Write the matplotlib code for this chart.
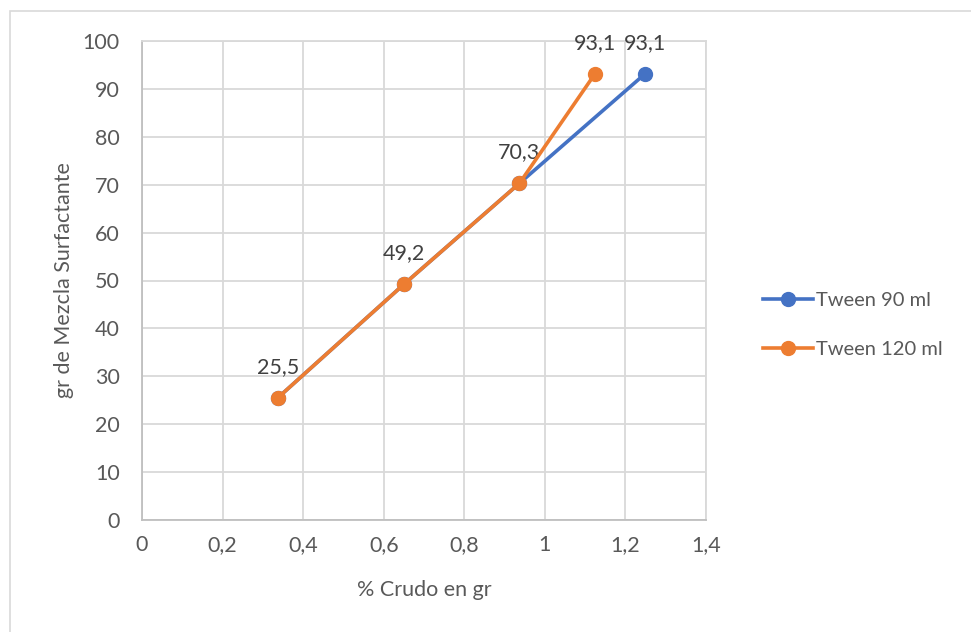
import matplotlib.pyplot as plt
from matplotlib.patches import Rectangle

plt.rcParams['font.family'] = ['Lato', 'DejaVu Sans']

# data
crudo_90 = [0.337, 0.650, 0.937, 1.248]
mezcla_90 = [25.5, 49.2, 70.3, 93.1]
crudo_120 = [0.337, 0.650, 0.937, 1.124]
mezcla_120 = [25.5, 49.2, 70.3, 93.1]
x_ticks = [0, 0.2, 0.4, 0.6, 0.8, 1.0, 1.2, 1.4]
y_ticks = list(range(0, 101, 10))

blue = '#4472C4'
orange = '#ED7D31'
grid_col = '#D9D9D9'
tick_col = '#595959'
fs = 15.5

fig = plt.figure(figsize=(9.71, 6.32), dpi=100)
fig.patches.append(Rectangle((10 / 971, -0.1), 1.2, 1 - 11 / 632 + 0.1,
                             transform=fig.transFigure, fill=False,
                             edgecolor='#D9D9D9', linewidth=1.2))
ax = fig.add_axes([142 / 971, 1 - 520 / 632, 564 / 971, 479 / 632])

ax.plot(crudo_90, mezcla_90, color=blue, lw=2.6, marker='o', ms=10,
        label='Tween 90 ml', zorder=3)
ax.plot(crudo_120, mezcla_120, color=orange, lw=2.6, marker='o', ms=10,
        label='Tween 120 ml', zorder=4)

# value labels above the points
labels = {}
for xs, ys in [(crudo_90, mezcla_90), (crudo_120, mezcla_120)]:
    for x, y in zip(xs, ys):
        labels[(x, y)] = y
for (x, y), v in labels.items():
    ax.annotate(f'{v:.1f}'.replace('.', ','), (x, y), xytext=(0, 15),
                textcoords='offset points', ha='center', va='bottom',
                fontsize=fs, color='#404040')

ax.set_xlim(0, 1.4)
ax.set_ylim(0, 100)
ax.set_xticks(x_ticks)
ax.set_yticks(y_ticks)
ax.set_xticklabels([f'{t:g}'.replace('.', ',') for t in x_ticks])
ax.grid(True, color=grid_col, lw=1.3)
ax.set_axisbelow(True)
for s in ax.spines.values():
    s.set_color(grid_col)
    s.set_linewidth(1.3)
ax.spines['bottom'].set_color('#BFBFBF')
ax.spines['left'].set_color('#BFBFBF')
ax.tick_params(length=0, labelsize=fs, labelcolor=tick_col, pad=11)
ax.tick_params(axis='y', pad=16)

ax.set_xlabel('% Crudo en gr', fontsize=fs, color=tick_col, labelpad=18)
ax.set_ylabel('gr de Mezcla Surfactante', fontsize=fs, color=tick_col,
              labelpad=6)

ax.legend(loc='center left', bbox_to_anchor=(1.069, 0.407), frameon=False,
          fontsize=14.5, labelcolor=tick_col, handlelength=2.5,
          handletextpad=0.15, labelspacing=1.6)

fig.savefig('out.png', dpi=100)
